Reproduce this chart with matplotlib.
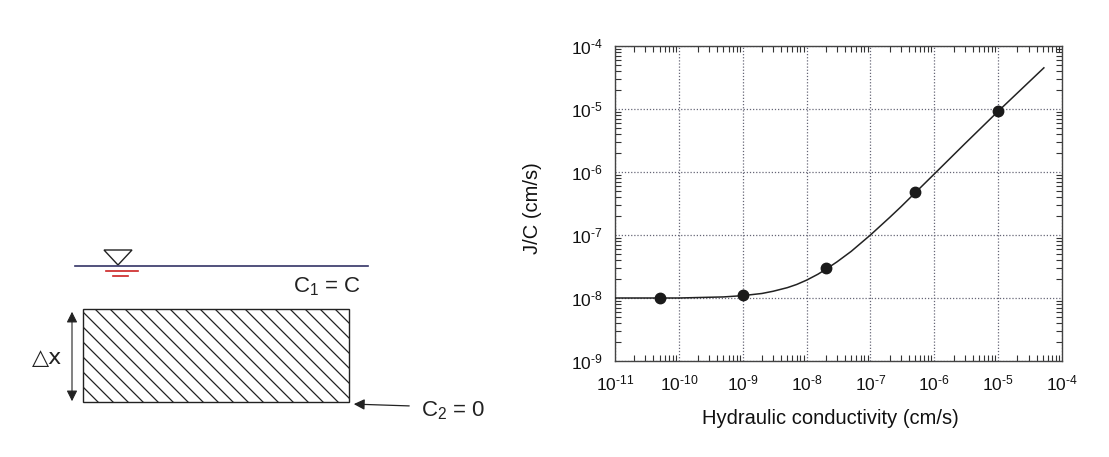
import math

import matplotlib
matplotlib.use("Agg")
import matplotlib.pyplot as plt
from matplotlib.patches import Polygon, Rectangle
from matplotlib.ticker import FixedLocator, FuncFormatter, LogLocator, NullFormatter

plt.rcParams["font.family"] = ["Liberation Sans", "DejaVu Sans"]
plt.rcParams["mathtext.fontset"] = "custom"
plt.rcParams["mathtext.rm"] = "Liberation Sans"
plt.rcParams["mathtext.it"] = "Liberation Sans:italic"
plt.rcParams["axes.unicode_minus"] = False

# measured points (hydraulic conductivity, J/C)
K_pts = [5e-11, 1e-9, 2e-8, 5e-7, 1e-5]
JC_pts = [1.0e-8, 1.1e-8, 3.0e-8, 4.8e-7, 9.4e-6]

# model curve
K_curve = [1e-11, 1e-10, 5e-10, 1e-9, 2e-9, 3e-9, 5e-9, 7e-9, 1e-8, 1.5e-8, 2e-8,
           3e-8, 5e-8, 1e-7, 2e-7, 3e-7, 1e-6, 3e-6, 1e-5, 5.2e-5]
JC_curve = [1.0e-8, 1.0e-8, 1.04e-8, 1.09e-8, 1.18e-8, 1.28e-8, 1.46e-8, 1.64e-8, 1.92e-8,
            2.38e-8, 2.85e-8, 3.75e-8, 5.5e-8, 1.0e-7, 1.9e-7, 2.8e-7, 9.3e-7, 2.8e-6,
            9.2e-6, 4.5e-5]

x_exponents = [-11, -10, -9, -8, -7, -6, -5, -4]
y_exponents = [-9, -8, -7, -6, -5, -4]

x_label = "Hydraulic conductivity (cm/s)"
y_label = "J/C (cm/s)"

W, H = 1109, 457
fig = plt.figure(figsize=(W / 100, H / 100), dpi=100)

# --- schematic on the left, drawn in pixel coordinates ---------------------
sk = fig.add_axes([0, 0, 1, 1])
sk.set_xlim(0, W); sk.set_ylim(H, 0); sk.axis("off")

ink = "#222222"
sk.plot([75, 368], [266, 266], color="#333366", lw=1.2)        # water surface
sk.add_patch(Polygon([[104, 250], [132, 250], [118, 265]], closed=True,
                     fill=False, ec=ink, lw=1.0))
sk.plot([106, 138], [271, 271], color="#cc2222", lw=1.2)
sk.plot([113, 128], [276, 276], color="#cc2222", lw=1.2)
sk.text(327, 287, r"C$_\mathrm{1}$ = C", fontsize=16, ha="center", va="center", color=ink)

# hatched layer: diagonal lines clipped to the box
x0, x1, y0, y1 = 83, 349, 309, 402
box = Rectangle((x0, y0), x1 - x0, y1 - y0, fill=False, ec=ink, lw=1.0)
sk.add_patch(box)
step = 15
start = x0 - (y1 - y0)
while start < x1:
    ln, = sk.plot([start, start + (y1 - y0)], [y0, y1], color=ink, lw=0.9)
    ln.set_clip_path(box)
    start += step

sk.annotate("", xy=(72, 309), xytext=(72, 404),
            arrowprops=dict(arrowstyle="<|-|>", color=ink, lw=0.8, mutation_scale=16))
sk.text(32, 358, "△x", fontsize=16, ha="left", va="center", color=ink,
        family=["DejaVu Sans"])
sk.annotate("", xy=(351, 404), xytext=(412, 406),
            arrowprops=dict(arrowstyle="-|>", color=ink, lw=0.9, mutation_scale=16))
sk.text(453, 411, r"C$_\mathrm{2}$ = 0", fontsize=16, ha="center", va="center", color=ink)

# --- log-log plot ---------------------------------------------------------
ax = fig.add_axes([615 / W, 1 - 361 / H, 447 / W, 315 / H])
ax.plot(K_curve, JC_curve, color="#222222", lw=1.1, zorder=3)
ax.plot(K_pts, JC_pts, "o", color="#1a1a1a", ms=7.5, zorder=4)
ax.set_xscale("log"); ax.set_yscale("log")
ax.set_xlim(1e-11, 1e-4); ax.set_ylim(1e-9, 1e-4)


def pow_label(v, _pos):
    """10^n label with a short hyphen for the minus, as in the printed figure."""
    e = int(round(math.log10(v)))
    if e < 0:
        return r"$\mathdefault{10^{\text{-}%d}}$" % abs(e)
    return r"$\mathdefault{10^{%d}}$" % e


ax.xaxis.set_major_locator(FixedLocator([10.0 ** e for e in x_exponents]))
ax.yaxis.set_major_locator(FixedLocator([10.0 ** e for e in y_exponents]))
for a in (ax.xaxis, ax.yaxis):
    a.set_major_formatter(FuncFormatter(pow_label))
    a.set_minor_locator(LogLocator(base=10, subs=range(2, 10), numticks=20))
    a.set_minor_formatter(NullFormatter())

ax.grid(True, which="major", ls=(0, (1, 1.5)), color="#666677", lw=0.9)
ax.tick_params(which="both", direction="in", top=True, right=True, colors="#333333",
               labelcolor="#111111", labelsize=12.5)
ax.tick_params(which="major", length=0, pad=9)
ax.tick_params(which="minor", length=4, width=0.8)
for s in ax.spines.values():
    s.set_color("#444444"); s.set_linewidth(1.0)

ax.set_xlabel(x_label, fontsize=14.5, color="#111111")
ax.set_ylabel(y_label, fontsize=14.5, color="#111111")
ax.xaxis.set_label_coords(0.481, -0.152)
ax.yaxis.set_label_coords(-0.163, 0.486)

fig.savefig("out.png", dpi=100)
